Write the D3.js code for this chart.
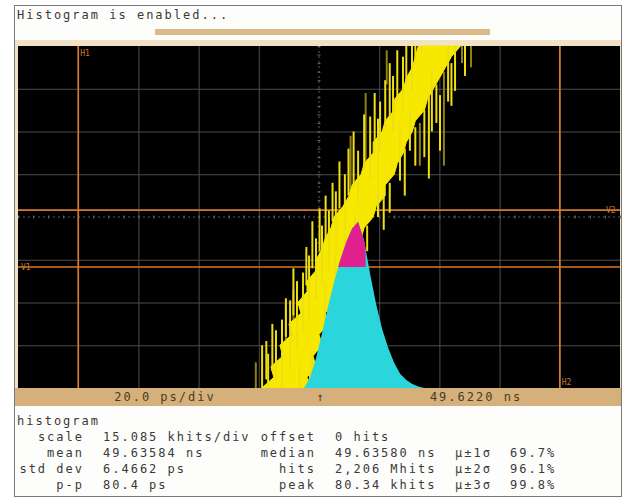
<!DOCTYPE html>
<html>
<head>
<meta charset="utf-8">
<script src="https://cdn.jsdelivr.net/npm/d3@7"></script>
<style>
  body { margin: 0; background: #fff; }
  text { font-family: 'DejaVu Sans Mono', monospace; }
</style>
</head>
<body>
<script>

const gridTimes = [-80, -60, -40, -20, 20, 40, 60, 80];   // ps rispetto al centro
const gridDivs = [-3, -2, -1, 1, 2, 3];                    // divisioni verticali

// bordo dell'inviluppo giallo (persistenza), livelli in div, tempi in ps
const bandLevels = [-4, -3.75, -3.5, -3.25, -3, -2.75, -2.5, -2.25, -2, -1.75, -1.5, -1.25, -1, -0.75, -0.5, -0.25,
                    0, 0.25, 0.5, 0.75, 1, 1.25, 1.5, 1.75, 2, 2.25, 2.5, 2.75, 3, 3.25, 3.5, 3.75, 4];
const bandLeft  = [-19, -15, -16, -12, -13, -9, -10, -6, -7, -4, -4, -1, -1, 1, 2, 4,
                   5, 8, 10, 11, 14, 15, 18, 18, 21, 22, 25, 25, 28, 29, 31, 32, 33];
const bandRight = [-2, -4, -1, -2, 1, 0, 3, 2, 5, 5, 7, 8, 10, 11, 14, 15,
                   18, 19, 22, 22, 25, 26, 28, 29, 31, 32, 35, 36, 38, 40, 42, 44, 47];

// picchi di rumore [ps, div da, div a]
const brightSpikes = [
  [-18.9, -4, -3], [-16.9, -4, -3.2], [-14.3, -3.8, -2.65], [-12.3, -4, -2.4], [-9.6, -3.6, -1.95],
  [-7.3, -3.1, -1.5], [-5.3, -2.65, -1.3], [-3.3, -2.4, -0.9], [-1, -1.95, -0.5], [1, -1.6, -0.2],
  [3.3, -1.25, 0.15], [5.6, -0.9, 0.6], [8.6, -0.3, 1], [13, 0.25, 1.55], [17, 0.85, 2.35],
  [20.3, 1.55, 2.7], [24.6, 2, 3.3], [27.9, 2.5, 3.75], [30.9, 2.95, 4],
  [19.6, 2.3, 0], [26.9, 2.15, 0.85], [30.2, 2.5, 1.55], [40.2, 2.85, 1.55], [37.5, 3.4, 2],
  [42.9, 4, 2.7], [45.2, 4, 2.95], [12, 0.03, -0.55], [8.6, -0.43, -1.13], [5.3, -0.9, -1.95],
  [2, -1.5, -2.65], [-2.3, -3.1, -3.95], [-6.5, -3.4, -4],
  [-17.5, -3.8, -2.9], [-15.5, -3.6, -2.5], [-11, -2.8, -1.9], [-8.5, -2.3, -1.2], [-4.2, -1.6, -0.7],
  [-2.2, -1.2, -0.1], [0.2, -0.8, 0.2], [2.2, -0.5, 0.5], [4.5, -0.1, 0.8], [6.8, 0.2, 1.3],
  [9.8, 0.5, 1.6], [11.5, 0.7, 2.0], [15, 1.1, 2.4], [18.5, 1.6, 2.9], [22, 2.1, 3.2],
  [23.5, 2.3, 3.6], [26, 2.7, 3.9], [29, 3.1, 4], [32, 3.6, 4], [34, 3.8, 4],
  [-3, -3.6, -4], [0, -3.2, -3.9], [3.5, -2.4, -3.2], [6.5, -1.8, -2.6], [9, -1.3, -2.0],
  [11, -0.9, -1.6], [14, -0.5, -1.4], [16, -0.2, -0.8], [21.5, 0.5, -0.3], [23.5, 0.8, 0.1],
  [28.5, 1.6, 0.5], [32, 2.1, 1.2], [35, 2.5, 1.4], [36.5, 2.9, 0.9], [39, 3.1, 2.2],
  [44, 3.6, 2.6], [48.5, 4, 3.3]
];
const dimSpikes = [
  [-21, -4, -3.4], [-8.5, -2.6, -1.7], [15.5, 1.2, 2.9], [22.5, 3.1, 3.9], [47.5, 4, 3.6],
  [33.5, 2.2, 1.2], [10.5, 0.4, 1.9], [-11, -2.9, -2.1], [50.5, 4, 3.5], [41.5, 3.4, 1.2]
];

// istogramma: centro del bin (ps) e conteggi (khits)
const histPs    = [-5, -3, -1, 1, 3, 5, 7, 9, 11, 13, 15, 17, 19, 21, 23, 25, 27, 29, 31, 33, 35];
const histKhits = [0, 3.5, 10.5, 19.3, 28.8, 37.3, 45.0, 51.3, 56.3, 58.7, 52.0, 40.1, 29.5, 20.7, 14.1, 8.8, 4.9, 2.8, 1.4, 0.5, 0];

// cursori
const hCursors = [{t: -80, label: 'H1', top: true}, {t: 80, label: 'H2', top: false}];
const vCursors = [{v: -1.17, label: 'V1', left: true}, {v: 0.16, label: 'V2', left: false}];

// testi
const titleText = 'Histogram is enabled...';
const barTexts = ['20.0 ps/div', '\u2191', '49.6220 ns'];
const statsRows = [
  ['scale', '15.085 khits/div', 'offset', '0 hits', '', ''],
  ['mean', '49.63584 ns', 'median', '49.63580 ns', '\u00b5\u00b11\u03c3', '69.7%'],
  ['std dev', '6.4662 ps', 'hits', '2,206 Mhits', '\u00b5\u00b12\u03c3', '96.1%'],
  ['p-p', '80.4 ps', 'peak', '80.34 khits', '\u00b5\u00b13\u03c3', '99.8%']
];

const W = 626, H = 500;
const plot = {left: 18, right: 620, top: 46, bottom: 388};

const svg = d3.select('body').append('svg')
    .attr('width', W)
    .attr('height', H);

const x = d3.scaleLinear().domain([-100, 100]).range([plot.left, plot.right]);
const y = d3.scaleLinear().domain([-4, 4]).range([plot.bottom, plot.top]);
const yh = d3.scaleLinear().domain([0, 8 * 15.085]).range([plot.bottom, plot.top]);

// cornice esterna
svg.append('rect')
    .attr('x', 14.5).attr('y', 5.5)
    .attr('width', 607).attr('height', 491)
    .attr('fill', '#fdfdfb')
    .attr('stroke', '#7a7a7a');

svg.append('text')
    .attr('x', 17).attr('y', 19)
    .attr('font-size', 12).attr('letter-spacing', 2)
    .attr('fill', '#3a3a3a')
    .text(titleText);

svg.append('rect')
    .attr('x', 155).attr('y', 29)
    .attr('width', 335).attr('height', 6)
    .attr('fill', '#d9bb8a');

// fascia chiara attorno allo schermo
svg.append('rect')
    .attr('x', 15).attr('y', 40)
    .attr('width', 606).attr('height', plot.bottom - 40)
    .attr('fill', '#f1e2c6');

svg.append('rect')
    .attr('x', plot.left).attr('y', plot.top)
    .attr('width', plot.right - plot.left).attr('height', plot.bottom - plot.top)
    .attr('fill', '#000');

const screen = svg.append('g');

// griglia con gli assi di d3
screen.append('g')
    .attr('transform', 'translate(0,' + plot.bottom + ')')
    .call(d3.axisBottom(x).tickValues(gridTimes).tickSize(-(plot.bottom - plot.top)).tickFormat(''))
    .call(g => g.select('.domain').remove())
    .call(g => g.selectAll('line').attr('stroke', '#4d4d4d'));

screen.append('g')
    .attr('transform', 'translate(' + plot.left + ',0)')
    .call(d3.axisLeft(y).tickValues(gridDivs).tickSize(-(plot.right - plot.left)).tickFormat(''))
    .call(g => g.select('.domain').remove())
    .call(g => g.selectAll('line').attr('stroke', '#4d4d4d'));

// assi centrali tratteggiati con tacche minori
screen.append('line')
    .attr('x1', plot.left).attr('x2', plot.right)
    .attr('y1', y(0)).attr('y2', y(0))
    .attr('stroke', '#5a5a5a').attr('stroke-dasharray', '2,3');
screen.append('line')
    .attr('x1', x(0)).attr('x2', x(0))
    .attr('y1', plot.top).attr('y2', plot.bottom)
    .attr('stroke', '#5a5a5a').attr('stroke-dasharray', '2,3');

screen.append('g')
    .attr('transform', 'translate(0,' + y(0) + ')')
    .call(d3.axisBottom(x).ticks(50).tickSize(3).tickSizeOuter(0).tickFormat(''))
    .call(g => g.select('.domain').remove())
    .call(g => g.selectAll('line').attr('stroke', '#6a6a6a').attr('transform', 'translate(0,-1.5)'));

screen.append('g')
    .attr('transform', 'translate(' + x(0) + ',0)')
    .call(d3.axisLeft(y).ticks(40).tickSize(3).tickSizeOuter(0).tickFormat(''))
    .call(g => g.select('.domain').remove())
    .call(g => g.selectAll('line').attr('stroke', '#6a6a6a').attr('transform', 'translate(1.5,0)'));

// cursori arancioni
screen.selectAll('.hcur').data(hCursors).enter().append('line')
    .attr('class', 'hcur')
    .attr('x1', d => x(d.t)).attr('x2', d => x(d.t))
    .attr('y1', plot.top).attr('y2', plot.bottom)
    .attr('stroke', '#d9782a').attr('stroke-width', 1.6);

screen.selectAll('.vcur').data(vCursors).enter().append('line')
    .attr('class', 'vcur')
    .attr('x1', plot.left).attr('x2', plot.right)
    .attr('y1', d => y(d.v)).attr('y2', d => y(d.v))
    .attr('stroke', '#d9782a').attr('stroke-width', 1.6);

// inviluppo giallo
const bandPts = bandLevels.map((v, i) => [bandLeft[i], v])
    .concat(bandLevels.map((v, i) => [bandRight[i], v]).reverse());

screen.selectAll('.dim').data(dimSpikes).enter().append('line')
    .attr('class', 'dim')
    .attr('x1', d => x(d[0])).attr('x2', d => x(d[0]))
    .attr('y1', d => y(d[1])).attr('y2', d => y(d[2]))
    .attr('stroke', '#8f8212').attr('stroke-width', 2);

screen.append('path')
    .datum(bandPts)
    .attr('d', d3.line().x(d => x(d[0])).y(d => y(d[1])))
    .attr('fill', '#f7e800')
    .attr('stroke', '#f7e800')
    .attr('stroke-width', 1);

screen.selectAll('.spike').data(brightSpikes).enter().append('line')
    .attr('class', 'spike')
    .attr('x1', d => x(d[0])).attr('x2', d => x(d[0]))
    .attr('y1', d => y(d[1])).attr('y2', d => y(d[2]))
    .attr('stroke', '#f0df10').attr('stroke-width', 2);

// istogramma
const histData = histPs.map((p, i) => ({ps: p, k: histKhits[i]}));
const area = d3.area()
    .x(d => x(d.ps))
    .y0(yh(0))
    .y1(d => yh(d.k));

screen.append('path')
    .datum(histData)
    .attr('d', area)
    .attr('fill', '#2ad6dc');

svg.append('clipPath').attr('id', 'finestra')
    .append('rect')
    .attr('x', plot.left).attr('y', y(vCursors[1].v))
    .attr('width', x(15.5) - plot.left)
    .attr('height', y(vCursors[0].v) - y(vCursors[1].v));

screen.append('path')
    .datum(histData)
    .attr('d', area)
    .attr('clip-path', 'url(#finestra)')
    .attr('fill', '#e0208f');

// etichette dei cursori
screen.selectAll('.hlab').data(hCursors).enter().append('text')
    .attr('x', d => x(d.t) + 2)
    .attr('y', d => d.top ? plot.top + 10 : plot.bottom - 3)
    .attr('font-size', 8)
    .attr('fill', '#c9762e')
    .text(d => d.label);

screen.selectAll('.vlab').data(vCursors).enter().append('text')
    .attr('x', d => d.left ? plot.left + 3 : plot.right - 14)
    .attr('y', d => y(d.v) + 3)
    .attr('font-size', 8)
    .attr('fill', '#c9762e')
    .text(d => d.label);

// barra inferiore
svg.append('rect')
    .attr('x', 15).attr('y', plot.bottom)
    .attr('width', 606).attr('height', 18)
    .attr('fill', '#d6b07a');

svg.selectAll('.bar').data(barTexts).enter().append('text')
    .attr('x', (d, i) => [165, 321, 476][i])
    .attr('y', plot.bottom + 13)
    .attr('text-anchor', 'middle')
    .attr('font-size', 12).attr('letter-spacing', 2)
    .attr('fill', '#4a3c24')
    .text(d => d);

// tabella statistiche
svg.append('text')
    .attr('x', 17).attr('y', 425)
    .attr('font-size', 12).attr('letter-spacing', 2)
    .attr('fill', '#3a3a3a')
    .text('histogram');

const colX = [84, 103, 316, 335, 455, 510];
const colAnchor = ['end', 'start', 'end', 'start', 'start', 'start'];

statsRows.forEach((row, r) => {
    svg.selectAll('.r' + r).data(row).enter().append('text')
        .attr('x', (d, i) => colX[i])
        .attr('y', 441 + r * 16)
        .attr('text-anchor', (d, i) => colAnchor[i])
        .attr('font-size', 12).attr('letter-spacing', 2)
        .attr('fill', '#3a3a3a')
        .text(d => d);
});

</script>
</body>
</html>
